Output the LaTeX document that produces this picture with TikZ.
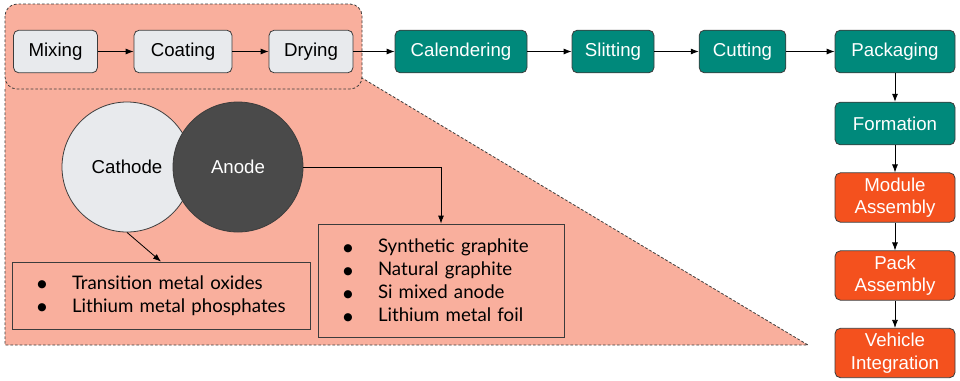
\documentclass[tikz,border=0pt]{standalone}
\usepackage{fontspec}
\setmainfont{Liberation Sans}
\newfontfamily\listfont{Lato}
\newfontfamily\dotfont{DejaVu Sans}
\usetikzlibrary{arrows.meta, positioning}
\definecolor{elsalmon}{HTML}{F9AF9D}
\definecolor{elteal}{HTML}{00897B}
\definecolor{elorange}{HTML}{F4511E}
\definecolor{ellight}{HTML}{E8EAED}
\definecolor{eldark}{HTML}{4A4A4A}
\definecolor{eledge}{HTML}{3C3C3C}
\newcommand{\dotmark}{\raisebox{1.3pt}{\dotfont\fontsize{8}{8}\selectfont ●}}
\newcommand{\listitem}[1]{\mbox{\makebox[26pt][l]{\dotmark}#1}}

\begin{document}
\begin{tikzpicture}[x=0.75pt, y=-0.75pt,
  stage/.style={rectangle, draw=eledge, rounded corners=4pt, minimum height=32pt, inner sep=0pt, font=\fontsize{14}{17}\selectfont, align=center, line width=0.6pt},
  prep/.style={stage, fill=ellight, text=black},
  cell/.style={stage, fill=elteal, text=white},
  pack/.style={stage, fill=elorange, text=white, minimum height=37pt},
  electrode/.style={circle, draw=eledge, minimum size=97.5pt, inner sep=0pt, font=\fontsize{14}{17}\selectfont, line width=0.6pt},
  chemlist/.style={rectangle, draw=eledge, fill=elsalmon, align=left, inner xsep=19pt, font=\listfont\fontsize{14}{17.25}\selectfont, line width=0.6pt},
  arr/.style={-{Latex[length=6pt, width=4.5pt]}, line width=0.6pt, black},
  zone/.style={draw=eledge, dash pattern=on 2pt off 1.5pt, line width=0.6pt},
]
  \useasboundingbox (0,0) rectangle (960,380);

  % Electrode zone
  \fill[elsalmon] (5,80) -- (362,78) -- (808,345) -- (5,345) -- cycle;
  \draw[zone] (5,89) -- (5,345) -- (808,345) -- (362,78);
  \draw[zone, fill=elsalmon, rounded corners=9pt] (5,4) rectangle (362,89);

  % Electrode steps
  \node[prep, minimum width=63pt] (mix) at (55.5, 51.5) {Mixing};
  \node[prep, minimum width=73.5pt] (coat) at (183, 51.5) {Coating};
  \node[prep, minimum width=63pt] (dry) at (311, 51.5) {Drying};

  % Cell steps
  \node[cell, minimum width=99pt] (cal) at (461, 51.5) {Calendering};
  \node[cell, minimum width=61.5pt] (slit) at (613, 51.5) {Slitting};
  \node[cell, minimum width=65pt] (cut) at (742.5, 51.5) {Cutting};
  \node[cell, minimum width=90pt] (pkg) at (895, 51.5) {Packaging};
  \node[cell, minimum width=90pt] (form) at (895, 123.5) {Formation};

  % Pack steps
  \node[pack, minimum width=90pt] (mod) at (895, 197.5) {Module\\Assembly};
  \node[pack, minimum width=90pt] (packasm) at (895, 275.5) {Pack\\Assembly};
  \node[pack, minimum width=90pt] (veh) at (895, 353) {Vehicle\\Integration};

  % Electrodes
  \node[electrode, fill=ellight] (cath) at (127, 167) {Cathode};
  \node[electrode, fill=eldark, text=white] (anod) at (238, 167) {Anode};

  % Materials
  \node[chemlist, text width=185.5pt, minimum height=50.25pt] (cathlist) at (161, 295.5)
    {\listitem{Transition metal oxides}\\\listitem{Lithium metal phosphates}};
  \node[chemlist, text width=146.5pt, minimum height=84.75pt] (anodlist) at (441, 280.5)
    {\listitem{Synthetic graphite}\\\listitem{Natural graphite}\\\listitem{Si mixed anode}\\\listitem{Lithium metal foil}};

  % Arrows
  \draw[arr] (mix) -- (coat);
  \draw[arr] (coat) -- (dry);
  \draw[arr] (dry) -- (cal);
  \draw[arr] (cal) -- (slit);
  \draw[arr] (slit) -- (cut);
  \draw[arr] (cut) -- (pkg);
  \draw[arr] (pkg) -- (form);
  \draw[arr] (form) -- (mod);
  \draw[arr] (mod) -- (packasm);
  \draw[arr] (packasm) -- (veh);
  \draw[arr] (cath.south) -- (cathlist.north);
  \draw[arr] (anod.east) -| (anodlist.north);
\end{tikzpicture}
\end{document}
